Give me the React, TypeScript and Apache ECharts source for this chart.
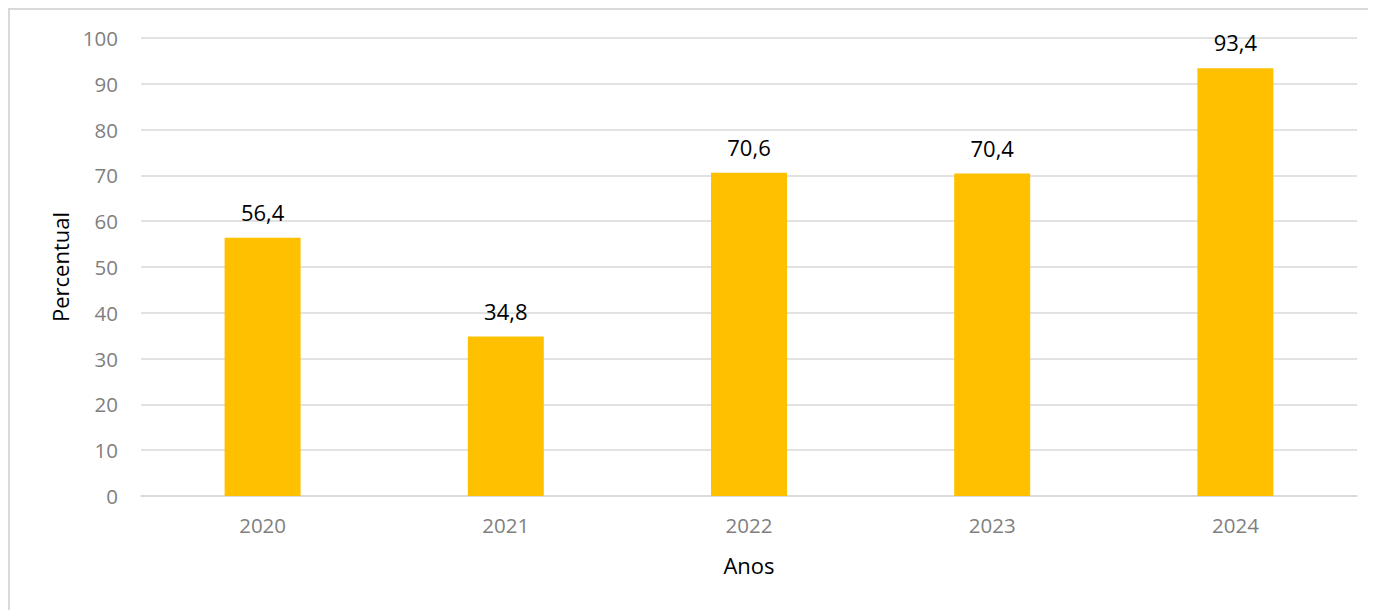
import React, { useEffect, useRef } from "react";
import * as echarts from "echarts";

const categories = ["2020", "2021", "2022", "2023", "2024"];
const values = [56.4, 34.8, 70.6, 70.4, 93.4];
const yTicks = { min: 0, max: 100, interval: 10 };

export default function App() {
  const ref = useRef<HTMLDivElement>(null);
  useEffect(() => {
    if (!ref.current) return;
    const chart = echarts.init(ref.current, null, { renderer: "svg" });
    const font = "'Open Sans', sans-serif";
    chart.setOption({
      animation: false,
      backgroundColor: "#ffffff",
      textStyle: { fontFamily: font },
      graphic: [
        { type: "line", shape: { x1: 1, y1: 0, x2: 1, y2: 700 }, style: { stroke: "#d9d9d9", lineWidth: 2 } },
        { type: "line", shape: { x1: 0, y1: 1, x2: 1500, y2: 1 }, style: { stroke: "#d9d9d9", lineWidth: 2 } },
      ],
      grid: { left: 133, right: 19, top: 30, bottom: 114 },
      xAxis: {
        type: "category",
        data: categories,
        name: "Anos",
        nameLocation: "middle",
        nameGap: 58,
        nameTextStyle: { color: "#000000", fontSize: 22, fontFamily: font },
        axisLine: { lineStyle: { color: "#d9d9d9", width: 1.5 } },
        axisTick: { show: false },
        axisLabel: { color: "#7f7f7f", fontSize: 20.5, margin: 18, fontFamily: font },
      },
      yAxis: {
        type: "value",
        min: yTicks.min,
        max: yTicks.max,
        interval: yTicks.interval,
        name: "Percentual",
        nameLocation: "middle",
        nameGap: 70,
        nameTextStyle: { color: "#000000", fontSize: 22, fontFamily: font },
        axisLine: { show: false },
        axisTick: { show: false },
        axisLabel: { color: "#7f7f7f", fontSize: 20.5, margin: 23, fontFamily: font },
        splitLine: { lineStyle: { color: "#d9d9d9", width: 1.5 } },
      },
      series: [
        {
          type: "bar",
          data: values,
          barWidth: 76,
          itemStyle: { color: "#ffc000" },
          label: {
            show: true,
            position: "top",
            distance: 15,
            color: "#000000",
            fontSize: 22,
            fontFamily: font,
            formatter: (p: any) => String(p.value).replace(".", ","),
          },
        },
      ],
    });
    return () => chart.dispose();
  }, []);
  return <div ref={ref} style={{ width: 1368, height: 602 }} />;
}
